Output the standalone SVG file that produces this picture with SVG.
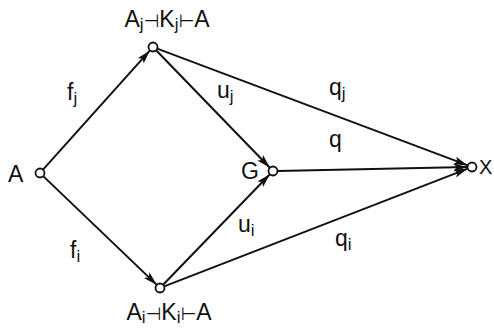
<svg xmlns="http://www.w3.org/2000/svg" width="494" height="331" viewBox="0 0 494 331">
<style>
.e{fill:none;stroke:#111;stroke-width:2}
.n{fill:#fff;stroke:#111;stroke-width:1.8}
text{font-family:"Liberation Sans","DejaVu Sans",sans-serif;font-size:23px;fill:#111}
.s{font-size:17px}
.t{font-size:18px}
</style>
<defs>
<marker id="ar" markerUnits="userSpaceOnUse" markerWidth="16" markerHeight="10" refX="14" refY="4" orient="auto">
<path d="M0,0 L14,4 L0,8 L3,4 Z" fill="#111"/>
</marker>
</defs>
<rect width="494" height="331" fill="#fff"/>
<g id="connectors">
<path class="e" d="M43,169.6 L150,50.4" marker-end="url(#ar)"/>
<path class="e" d="M43.2,176.1 L156.8,284.9" marker-end="url(#ar)"/>
<path class="e" d="M156.1,50.2 L269.9,167.8" marker-end="url(#ar)"/>
<path class="e" d="M163.1,284.8 L269.9,174.2" marker-end="url(#ar)"/>
<path class="e" d="M157.2,48.6 L467.8,165.4" marker-end="url(#ar)"/>
<path class="e" d="M277.5,170.9 L467.5,167.1" marker-end="url(#ar)"/>
<path class="e" d="M164.2,286.4 L467.8,168.6" marker-end="url(#ar)"/>
<text x="67" y="100">f<tspan class="s" dy="4">j</tspan></text>
<text x="70" y="258">f<tspan class="s" dy="4">i</tspan></text>
<text x="217" y="98">u<tspan class="s" dy="4">j</tspan></text>
<text x="238" y="232">u<tspan class="s" dy="4">i</tspan></text>
<text x="329" y="95">q<tspan class="s" dy="4">j</tspan></text>
<text x="329" y="147">q</text>
<text x="335" y="246">q<tspan class="s" dy="4">i</tspan></text>
</g>
<g id="nodeA">
<circle class="n" cx="40" cy="173" r="4.5"/>
<text x="8" y="182">A</text>
</g>
<g id="nodeTop">
<circle class="n" cx="153" cy="47" r="4.5"/>
<text x="167" y="27" text-anchor="middle">A<tspan class="s" dy="3">j</tspan><tspan class="t" dy="-3">⊣</tspan><tspan>K</tspan><tspan class="s" dy="3">j</tspan><tspan class="t" dy="-3">⊢</tspan><tspan>A</tspan></text>
</g>
<g id="nodeBottom">
<circle class="n" cx="160" cy="288" r="4.5"/>
<text x="169" y="320" text-anchor="middle">A<tspan class="s" dy="3">i</tspan><tspan class="t" dy="-3">⊣</tspan><tspan>K</tspan><tspan class="s" dy="3">i</tspan><tspan class="t" dy="-3">⊢</tspan><tspan>A</tspan></text>
</g>
<g id="nodeG">
<circle class="n" cx="273" cy="171" r="4.5"/>
<text x="241" y="179">G</text>
</g>
<g id="nodeX">
<circle class="n" cx="472" cy="167" r="4.5"/>
<text x="479" y="174" style="font-size:20px">X</text>
</g>
</svg>
